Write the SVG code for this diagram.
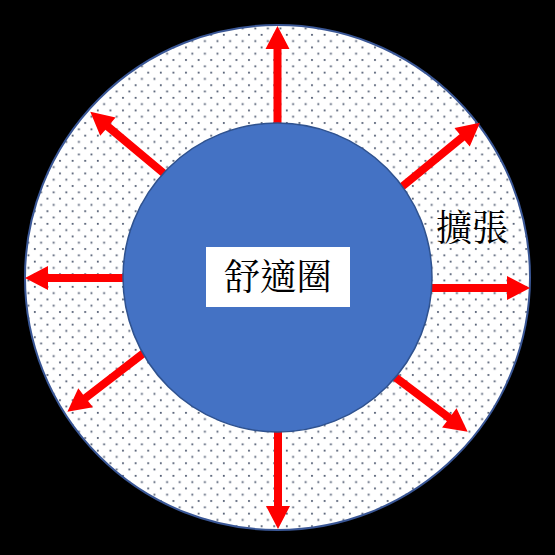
<svg xmlns="http://www.w3.org/2000/svg" width="555" height="555" viewBox="0 0 555 555">
<defs>
<pattern id="dots" x="0" y="0" width="12.6" height="12.6" patternUnits="userSpaceOnUse">
<rect width="12.6" height="12.6" fill="#ffffff"/>
<rect x="2.4" y="2.4" width="1.8" height="1.8" fill="#4f5a70"/>
<rect x="8.7" y="8.7" width="1.8" height="1.8" fill="#4f5a70"/>
</pattern>
<style>
.arrow{fill:#ff0000;}
.lbl{font-family:"Noto Serif CJK TC","Noto Sans CJK TC",serif;font-size:36px;fill:#000000;text-anchor:middle;}
</style>
</defs>
<rect width="555" height="555" fill="#000000"/>
<g id="outer">
<circle cx="277.5" cy="277.5" r="252.5" fill="url(#dots)" stroke="#3a5796" stroke-width="2"/>
</g>
<g id="connectors">
<polygon class="arrow" points="281.5,130 281.5,49 289.5,49 277.5,26 265.5,49 273.5,49 273.5,130"/>
<polygon class="arrow" points="282,426 282,506 290,506 278,529 266,506 274,506 274,426"/>
<polygon class="arrow" points="130,274 48,274 48,266 25,278 48,290 48,282 130,282"/>
<polygon class="arrow" points="425,284 507,284 507,276 530,288 507,300 507,292 425,292"/>
<polygon class="arrow" transform="translate(167,176) rotate(219.9)" points="0,-4 77,-4 77,-12 100,0 77,12 77,4 0,4"/>
<polygon class="arrow" transform="translate(398,190) rotate(-39.4)" points="0,-4 83,-4 83,-12 106,0 83,12 83,4 0,4"/>
<polygon class="arrow" transform="translate(149,349) rotate(142.4)" points="0,-4 80,-4 80,-12 103,0 80,12 80,4 0,4"/>
<polygon class="arrow" transform="translate(391,374) rotate(37)" points="0,-4 73,-4 73,-12 96,0 73,12 73,4 0,4"/>
</g>
<g id="comfort">
<circle cx="277.5" cy="277.5" r="154.5" fill="#4472c4" stroke="#2f528f" stroke-width="1.5"/>
<rect x="206" y="247" width="144" height="60" fill="#ffffff"/>
<text class="lbl" x="278" y="290">舒適圈</text>
</g>
<g id="expand">
<text class="lbl" x="472" y="241">擴張</text>
</g>
</svg>
